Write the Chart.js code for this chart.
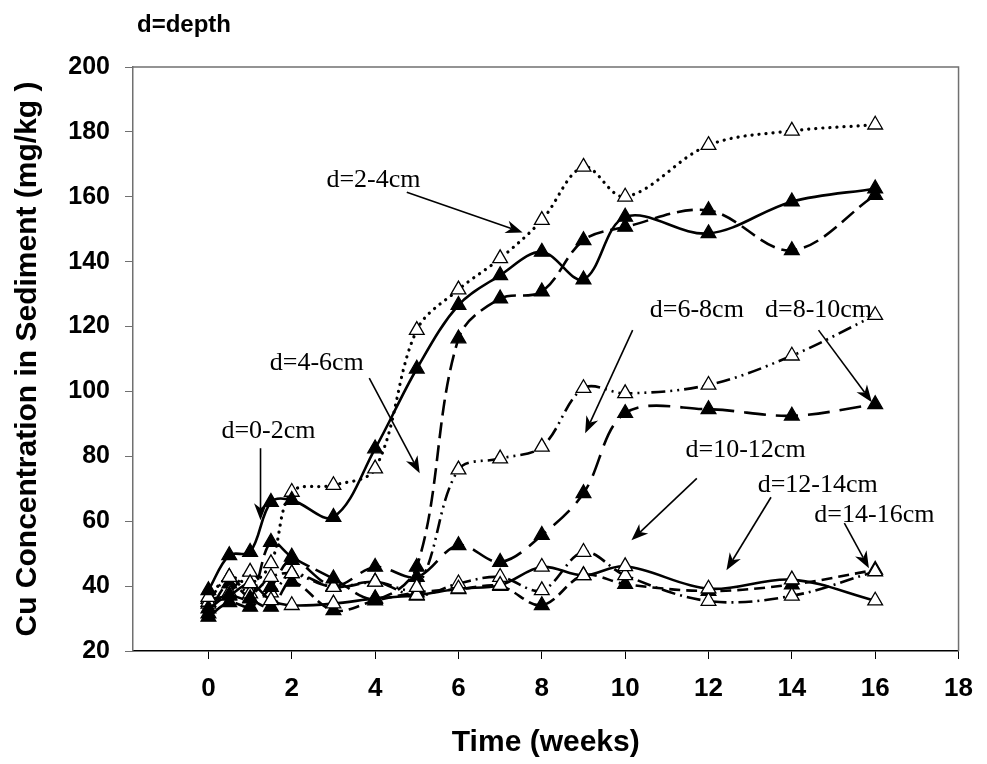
<!DOCTYPE html>
<html>
<head>
<meta charset="utf-8">
<script src="https://cdn.jsdelivr.net/npm/chart.js@4.4.1/dist/chart.umd.min.js"></script>
<style>
  html, body { margin: 0; padding: 0; background: #ffffff; }
  #wrap { width: 987px; height: 764px; }
</style>
</head>
<body>
<div id="wrap"><canvas id="chart" width="987" height="764"></canvas></div>
<script>
// Sampling times (weeks) shared by every depth profile
const weeks = [0, 0.5, 1, 1.5, 2, 3, 4, 5, 6, 7, 8, 9, 10, 12, 14, 16];

// Cu concentration in sediment (mg/kg) for each depth layer
const cu0to2   = [38.7, 49.5, 50.5, 65.9, 66.5, 61.3, 82.4, 107.0, 126.6, 135.8, 143.0, 134.5, 153.8, 148.7, 158.5, 162.5];
const cu2to4   = [36.6, 42.8, 40.8, 47.0, 69.0, 71.1, 76.2, 118.9, 131.4, 141.0, 152.8, 169.2, 160.0, 175.9, 180.3, 182.2];
const cu4to6   = [33.1, 37.0, 36.2, 53.6, 49.0, 42.3, 36.0, 45.9, 116.3, 128.6, 130.8, 146.6, 150.7, 155.8, 143.5, 160.5];
const cu6to8   = [35.1, 42.8, 37.7, 42.8, 43.9, 39.7, 41.3, 39.7, 75.9, 79.3, 82.9, 101.0, 99.4, 102.0, 111.0, 123.5];
const cu8to10  = [30.5, 35.0, 33.6, 39.7, 48.0, 40.0, 45.9, 42.8, 52.6, 47.4, 55.7, 68.6, 93.3, 94.5, 92.5, 96.0];
const cu10to12 = [36.0, 37.2, 40.8, 35.6, 34.1, 34.6, 36.2, 37.2, 39.2, 40.3, 45.9, 43.3, 46.1, 39.2, 42.0, 35.5];
const cu12to14 = [34.5, 38.0, 44.4, 38.0, 43.9, 39.7, 41.3, 37.0, 40.8, 42.8, 38.7, 50.5, 43.3, 35.4, 37.0, 44.5];
const cu14to16 = [31.5, 40.8, 36.2, 33.6, 41.3, 32.5, 35.5, 38.0, 39.0, 40.0, 34.1, 43.3, 40.6, 38.5, 40.5, 45.0];

// Axis tick labels
const xTicks = [0, 2, 4, 6, 8, 10, 12, 14, 16, 18];
const yTicks = [20, 40, 60, 80, 100, 120, 140, 160, 180, 200];

// Depth call-outs: label text, label centre and arrow (tail -> head), in data units
const calloutText = ['d=0-2cm', 'd=2-4cm', 'd=4-6cm', 'd=6-8cm', 'd=8-10cm', 'd=10-12cm', 'd=12-14cm', 'd=14-16cm'];
const calloutLabelAt = [[1.44, 87.7], [3.96, 165.1], [2.60, 108.7], [11.72, 125.0], [14.64, 125.0], [12.89, 81.9], [14.62, 71.1], [15.98, 61.8]];
const calloutArrow = [
  [[1.25, 82.5], [1.25, 60.3]],
  [[4.76, 161.4], [7.54, 149.0]],
  [[3.86, 104.1], [5.07, 74.8]],
  [[10.18, 118.9], [9.04, 87.1]],
  [[14.64, 118.9], [15.92, 96.7]],
  [[11.72, 73.2], [10.15, 54.1]],
  [[13.50, 67.4], [12.43, 44.9]],
  [[15.26, 59.4], [15.85, 45.5]]
];

const series = [cu0to2, cu2to4, cu4to6, cu6to8, cu8to10, cu10to12, cu12to14, cu14to16];
// line pattern and marker fill per layer
const dashes = [[], [0.1, 7], [16, 7], [14, 5, 2, 5, 2, 5], [22, 10], [], [14, 5, 2, 5], [11, 6]];
const filled = [true, false, true, false, true, false, false, true];
const isDotted = (d) => d.length === 2 && d[0] < 1;

const datasets = series.map((vals, i) => ({
  label: calloutText[i],
  data: weeks.map((w, k) => ({ x: w, y: vals[k] })),
  borderColor: '#000000',
  borderWidth: isDotted(dashes[i]) ? 3.2 : 2.6,
  borderDash: dashes[i],
  borderCapStyle: isDotted(dashes[i]) ? 'round' : 'butt',
  tension: 0.35,
  fill: false,
  pointStyle: 'triangle',
  pointRadius: 8.5,
  pointBorderWidth: 1.3,
  pointBorderColor: '#000000',
  pointBackgroundColor: filled[i] ? '#000000' : '#ffffff'
}));

const frameAndNotes = {
  id: 'frameAndNotes',
  afterDatasetsDraw(chart) {
    const { ctx, chartArea: a, scales: { x, y } } = chart;
    ctx.save();
    // top and right edges of the plot box
    ctx.strokeStyle = '#707070';
    ctx.lineWidth = 1.5;
    ctx.beginPath();
    ctx.moveTo(a.left, a.top);
    ctx.lineTo(a.right, a.top);
    ctx.lineTo(a.right, a.bottom);
    ctx.stroke();

    // call-out labels and arrows
    ctx.fillStyle = '#000000';
    ctx.strokeStyle = '#000000';
    ctx.font = '26px "Liberation Serif", "Times New Roman", serif';
    ctx.textAlign = 'center';
    ctx.textBaseline = 'middle';
    calloutText.forEach((t, i) => {
      const [lx, ly] = calloutLabelAt[i];
      ctx.fillText(t, x.getPixelForValue(lx), y.getPixelForValue(ly));
      const [[x0, y0], [x1, y1]] = calloutArrow[i];
      const px0 = x.getPixelForValue(x0), py0 = y.getPixelForValue(y0);
      const px1 = x.getPixelForValue(x1), py1 = y.getPixelForValue(y1);
      const ang = Math.atan2(py1 - py0, px1 - px0);
      const len = 17, half = 6.5, back = 12;
      ctx.lineWidth = 1.6;
      ctx.beginPath();
      ctx.moveTo(px0, py0);
      ctx.lineTo(px1 - Math.cos(ang) * back, py1 - Math.sin(ang) * back);
      ctx.stroke();
      ctx.beginPath();
      ctx.moveTo(px1, py1);
      ctx.lineTo(px1 - Math.cos(ang) * len - Math.sin(ang) * half, py1 - Math.sin(ang) * len + Math.cos(ang) * half);
      ctx.lineTo(px1 - Math.cos(ang) * back, py1 - Math.sin(ang) * back);
      ctx.lineTo(px1 - Math.cos(ang) * len + Math.sin(ang) * half, py1 - Math.sin(ang) * len - Math.cos(ang) * half);
      ctx.closePath();
      ctx.fill();
    });

    // legend key text above the plot
    ctx.font = 'bold 24px "Liberation Sans", Arial, sans-serif';
    ctx.textAlign = 'left';
    ctx.textBaseline = 'alphabetic';
    ctx.fillText('d=depth', 137, 32);
    ctx.restore();
  }
};

new Chart(document.getElementById('chart'), {
  type: 'line',
  data: { datasets },
  options: {
    responsive: false,
    animation: false,
    devicePixelRatio: 1,
    layout: { padding: { top: 67, right: 20, left: 0, bottom: 0 } },
    plugins: { legend: { display: false }, tooltip: { enabled: false } },
    scales: {
      x: {
        type: 'linear',
        min: -1.81,
        max: 18,
        afterBuildTicks: (axis) => { axis.ticks = xTicks.map(v => ({ value: v })); },
        afterFit: (axis) => { axis.height = 113; },
        border: { display: true, color: '#000000', width: 1.5 },
        grid: { display: true, drawOnChartArea: false, drawTicks: true, tickLength: 8, color: '#000000', lineWidth: 1 },
        ticks: {
          color: '#000000',
          padding: 14,
          maxRotation: 0,
          autoSkip: false,
          font: { family: '"Liberation Sans", Arial, sans-serif', size: 26, weight: 'bold' }
        },
        title: {
          display: true,
          text: 'Time (weeks)',
          color: '#000000',
          padding: { top: 0, bottom: 3 },
          font: { family: '"Liberation Sans", Arial, sans-serif', size: 30, weight: 'bold' }
        }
      },
      y: {
        type: 'linear',
        min: 20,
        max: 200,
        afterBuildTicks: (axis) => { axis.ticks = yTicks.map(v => ({ value: v })); },
        afterFit: (axis) => { axis.width = 133; },
        border: { display: true, color: '#707070', width: 1.5 },
        grid: { display: true, drawOnChartArea: false, drawTicks: true, tickLength: 8, color: '#707070', lineWidth: 1 },
        ticks: {
          color: '#000000',
          padding: 15,
          font: { family: '"Liberation Sans", Arial, sans-serif', size: 25, weight: 'bold' }
        },
        title: {
          display: true,
          text: 'Cu Concentration in Sediment (mg/kg )',
          color: '#000000',
          padding: { top: 10, bottom: 0 },
          font: { family: '"Liberation Sans", Arial, sans-serif', size: 30, weight: 'bold' }
        }
      }
    }
  },
  plugins: [frameAndNotes]
});
</script>
</body>
</html>
